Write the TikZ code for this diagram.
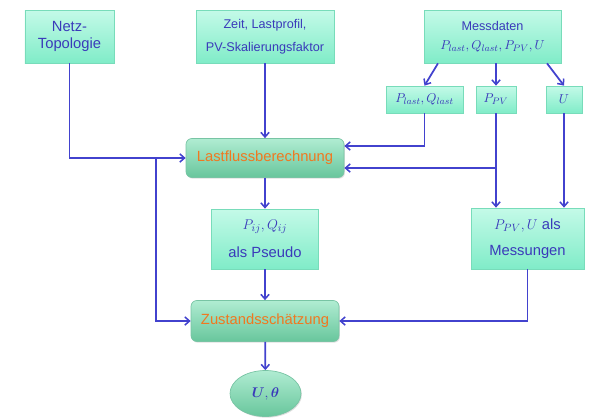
\documentclass[tikz,border=0pt]{standalone}
\usepackage{bm}
\usepackage{fontspec}
\setmainfont{Liberation Sans}
\usetikzlibrary{arrows.meta,shapes.geometric,shadows}
\definecolor{flowline}{RGB}{66,66,206}
\definecolor{boxtext}{RGB}{58,58,186}
\definecolor{procorange}{RGB}{240,120,32}
\definecolor{datatop}{RGB}{196,250,232}
\definecolor{databot}{RGB}{128,236,200}
\definecolor{dataedge}{RGB}{120,220,186}
\definecolor{proctop}{RGB}{176,236,210}
\definecolor{procbot}{RGB}{104,198,156}
\definecolor{procedge}{RGB}{120,196,164}
\tikzset{
  databox/.style={draw=dataedge, line width=0.6pt, top color=datatop, bottom color=databot,
    text=boxtext, align=center, inner sep=1pt, font=\fontsize{12.6}{15}\selectfont,
    drop shadow={opacity=0.18, shadow xshift=0.6pt, shadow yshift=-0.8pt}},
  procbox/.style={draw=procedge, line width=0.6pt, rounded corners=5pt, top color=proctop, bottom color=procbot,
    text=procorange, align=center, font=\fontsize{12.6}{15}\selectfont,
    drop shadow={opacity=0.25, shadow xshift=0.8pt, shadow yshift=-1pt}},
  resultbox/.style={shape=ellipse, draw=procedge, line width=0.6pt, top color=proctop, bottom color=procbot,
    text=boxtext, font=\fontsize{13}{15}\selectfont,
    drop shadow={opacity=0.25, shadow xshift=0.8pt, shadow yshift=-1pt}},
  flow/.style={draw=flowline, line width=1.5pt, -{Straight Barb[length=4pt,width=7pt,line width=1.3pt]}}
}
\begin{document}
\begin{tikzpicture}[x=0.03cm,y=-0.03cm]
  \useasboundingbox (0,0) rectangle (600,418);
  % inputs
  \node[databox, minimum width=2.67cm, minimum height=1.59cm] (netz) at (69.5,36.5) {Netz-\\Topologie};
  \node[databox, minimum width=4.14cm, minimum height=1.59cm, font=\fontsize{10.8}{19.5}\selectfont] (zeit) at (265,36.5)
    {Zeit, Lastprofil,\\PV-Skalierungsfaktor};
  \node[databox, minimum width=4.11cm, minimum height=1.59cm, font=\fontsize{10.8}{16}\selectfont] (mess) at (492.5,36.5)
    {Messdaten\\$P_{last}, Q_{last}, P_{PV}, U$};
  \node[databox, minimum width=2.31cm, minimum height=0.81cm, font=\fontsize{10.8}{13}\selectfont] (plq) at (424.5,99.5) {$P_{last}, Q_{last}$};
  \node[databox, minimum width=1.2cm, minimum height=0.81cm, font=\fontsize{10.8}{13}\selectfont] (ppv) at (496,99.5) {$P_{PV}$};
  \node[databox, minimum width=1.08cm, minimum height=0.81cm, font=\fontsize{10.8}{13}\selectfont] (u) at (564,99.5) {$U$};
  % processing
  \node[procbox, minimum width=4.74cm, minimum height=1.17cm] (lastfluss) at (265,158) {Lastflussberechnung};
  \node[databox, minimum width=3.21cm, minimum height=1.8cm, font=\fontsize{12.6}{24}\selectfont] (pseudo) at (265,239)
    {$P_{ij}, Q_{ij}$\\als Pseudo};
  \node[databox, minimum width=3.39cm, minimum height=1.83cm, font=\fontsize{12.6}{22}\selectfont] (messungen) at (527.5,238.5)
    {$P_{PV}, U$ als\\Messungen};
  \node[procbox, minimum width=4.44cm, minimum height=1.23cm] (zustand) at (265,321) {Zustandsschätzung};
  \node[resultbox, minimum width=2.13cm, minimum height=1.38cm] (ergebnis) at (265.5,393.5) {$\bm{U}, \bm{\theta}$};
  \coordinate (knot) at (156,158);
  \begin{scope}[flow]
    \draw (netz.south) |- (lastfluss.west);
    \draw (knot) |- (zustand.west);
    \draw (zeit) -- (lastfluss);
    \draw ([xshift=-1.635cm]mess.south) -- (plq.north);
    \draw (ppv.north |- mess.south) -- (ppv.north);
    \draw ([xshift=1.635cm]mess.south) -- (u.north);
    \draw (plq.south) |- ([yshift=0.36cm]lastfluss.east);
    \draw (ppv.south) |- ([yshift=-0.3cm]lastfluss.east);
    \draw (ppv.south) -- (ppv.south |- messungen.north);
    \draw (u.south) -- (u.south |- messungen.north);
    \draw (messungen.south) |- (zustand.east);
    \draw (lastfluss) -- (pseudo);
    \draw (pseudo) -- (zustand);
    \draw (zustand) -- (ergebnis);
  \end{scope}
\end{tikzpicture}
\end{document}
